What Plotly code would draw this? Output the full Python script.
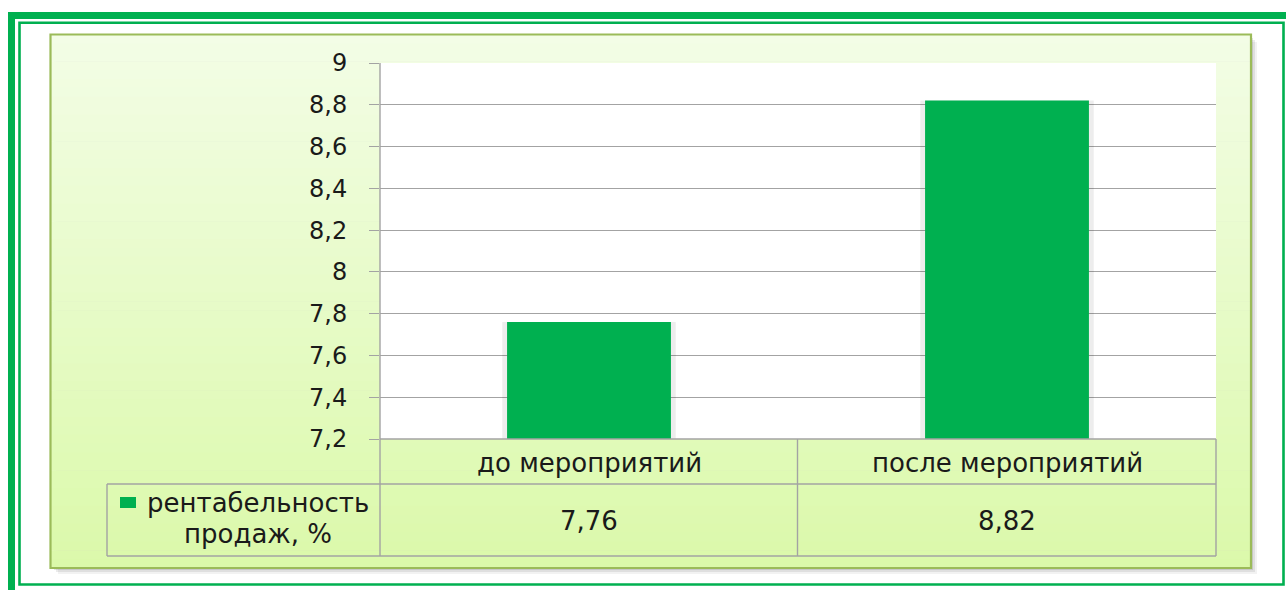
import plotly.graph_objects as go

# ---- data ----
categories = ["до мероприятий", "после мероприятий"]
values = [7.76, 8.82]
legend_lines = ["рентабельность", "продаж, %"]
y_min, y_max, y_step = 7.2, 9.0, 0.2

W, H = 1286, 590
def px(x):
    return x / W
def py(y):
    return 1 - y / H

GREEN = "#00B050"
GRID = "#A3A3A3"
TXT = "#1A1A1A"
FONT = "DejaVu Sans"

# plot-area geometry (pixels)
PL, PR, PT, PB = 380, 1216, 63, 439
ROW2_T, TB_B, LEG_L, COL_SPLIT = 484, 556, 107, 797.5

shapes = []
# outer thick frame (top + left)
shapes.append(dict(type="line", xref="paper", yref="paper", x0=px(8), x1=px(1290),
                   y0=py(15.5), y1=py(15.5), line=dict(color=GREEN, width=7), layer="below"))
shapes.append(dict(type="line", xref="paper", yref="paper", x0=px(11.5), x1=px(11.5),
                   y0=py(12), y1=py(595), line=dict(color=GREEN, width=7), layer="below"))
# inner thin frame
shapes.append(dict(type="rect", xref="paper", yref="paper", x0=px(19.5), x1=px(1283.5),
                   y0=py(22.8), y1=py(584.5), line=dict(color=GREEN, width=2.6), layer="below"))
# panel shadow
for off, a in [(6, 0.05), (4, 0.08), (2, 0.10)]:
    shapes.append(dict(type="rect", xref="paper", yref="paper", x0=px(52 + off), x1=px(1251 + off),
                       y0=py(36 + off), y1=py(568 + off), line=dict(width=0),
                       fillcolor=f"rgba(0,0,0,{a})", layer="below"))
# panel gradient bands
top_c = (243, 253, 230)
bot_c = (219, 249, 170)
y0p, y1p = 34.5, 568
n = 60
for i in range(n):
    t = (i + 0.5) / n
    c = tuple(round(top_c[k] + (bot_c[k] - top_c[k]) * t) for k in range(3))
    ya = y0p + (y1p - y0p) * i / n
    yb = y0p + (y1p - y0p) * (i + 1) / n + 0.6
    shapes.append(dict(type="rect", xref="paper", yref="paper", x0=px(50.5), x1=px(1251),
                       y0=py(ya), y1=py(min(yb, y1p)), line=dict(width=0),
                       fillcolor=f"rgb{c}", layer="below"))
# panel border
shapes.append(dict(type="rect", xref="paper", yref="paper", x0=px(50.5), x1=px(1251),
                   y0=py(34.5), y1=py(568), line=dict(color="#9BBB59", width=2.2), layer="below"))
# white plot area
shapes.append(dict(type="rect", xref="paper", yref="paper", x0=px(PL), x1=px(PR),
                   y0=py(PT), y1=py(PB), line=dict(width=0), fillcolor="white", layer="below"))

# data table lines
def hline(y, xa, xb):
    shapes.append(dict(type="line", xref="paper", yref="paper", x0=px(xa), x1=px(xb),
                       y0=py(y), y1=py(y), line=dict(color=GRID, width=1.4), layer="above"))
def vline(x, ya, yb):
    shapes.append(dict(type="line", xref="paper", yref="paper", x0=px(x), x1=px(x),
                       y0=py(ya), y1=py(yb), line=dict(color=GRID, width=1.4), layer="above"))
hline(PB, PL, PR)
hline(ROW2_T, LEG_L, PR)
hline(TB_B, LEG_L, PR)
vline(PL, PT, TB_B)
vline(COL_SPLIT, PB, TB_B)
vline(PR, PB, TB_B)
vline(LEG_L, ROW2_T, TB_B)
# legend key
shapes.append(dict(type="rect", xref="paper", yref="paper", x0=px(120), x1=px(136),
                   y0=py(497), y1=py(508), line=dict(width=0), fillcolor=GREEN, layer="above"))

TFS = 26
annotations = []
for cat, v in zip(categories, values):
    annotations.append(dict(x=cat, xref="x", y=py(463), yref="paper", text=cat, showarrow=False,
                            font=dict(family=FONT, size=TFS, color=TXT), xanchor="center", yanchor="middle"))
    annotations.append(dict(x=cat, xref="x", y=py(521), yref="paper",
                            text=f"{v:.2f}".replace(".", ","), showarrow=False,
                            font=dict(family=FONT, size=TFS, color=TXT), xanchor="center", yanchor="middle"))
annotations.append(dict(x=px(258), xref="paper", y=py(503), yref="paper", text=legend_lines[0],
                        showarrow=False, font=dict(family=FONT, size=TFS, color=TXT),
                        xanchor="center", yanchor="middle"))
annotations.append(dict(x=px(258), xref="paper", y=py(534), yref="paper", text=legend_lines[1],
                        showarrow=False, font=dict(family=FONT, size=TFS, color=TXT),
                        xanchor="center", yanchor="middle"))

fig = go.Figure()
# soft bar shadow
fig.add_trace(go.Bar(x=categories, y=values, width=0.415, marker=dict(color="rgba(0,0,0,0.07)", line=dict(width=0)),
                     hoverinfo="skip", showlegend=False))
fig.add_trace(go.Bar(x=categories, y=values, width=0.392, marker=dict(color=GREEN, line=dict(width=0)),
                     name=" ".join(legend_lines), showlegend=False))

tickvals = [round(y_min + i * y_step, 1) for i in range(int(round((y_max - y_min) / y_step)) + 1)]

fig.update_layout(
    width=W, height=H, autosize=False,
    margin=dict(l=0, r=0, t=0, b=0, pad=0, autoexpand=False),
    paper_bgcolor="white", plot_bgcolor="rgba(0,0,0,0)",
    separators=", ",
    barmode="overlay",
    showlegend=False,
    shapes=shapes,
    annotations=annotations,
    xaxis=dict(domain=[px(PL), px(PR)], range=[-0.5, 1.5], showticklabels=False, automargin=False,
               showgrid=False, zeroline=False, showline=False, ticks="", fixedrange=True),
    yaxis=dict(domain=[py(PB), py(PT)], range=[y_min, y_max], tickvals=tickvals, automargin=False,
               ticktext=[f"{t:g}".replace(".", ",") for t in tickvals],
               showgrid=True, gridcolor=GRID, gridwidth=1.4, zeroline=False,
               showline=False, ticks="outside", ticklen=10, tickcolor=GRID, tickwidth=1.4,
               ticklabelstandoff=17,
               tickfont=dict(family=FONT, size=24, color=TXT), fixedrange=True),
)

fig.write_html("out.html", config={"displayModeBar": False},
               post_script="document.body.style.margin='0';document.body.style.overflow='hidden';")
